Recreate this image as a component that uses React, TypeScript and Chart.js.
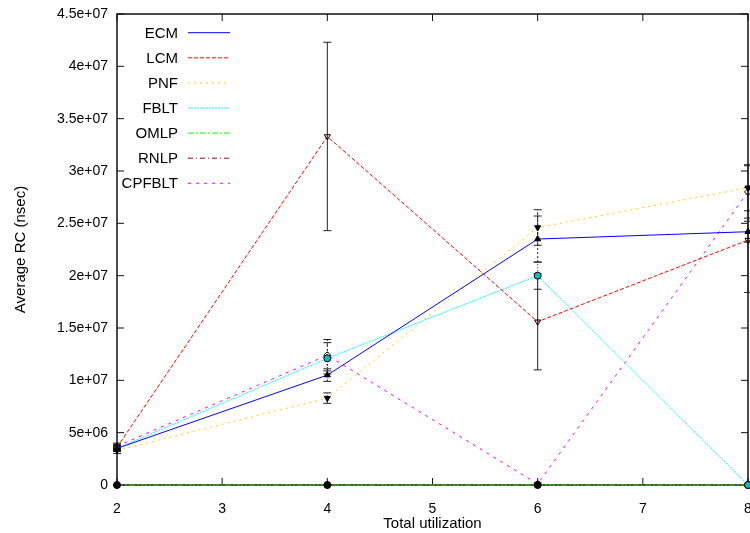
import { useEffect, useRef } from "react";
import { Chart, registerables } from "chart.js";

Chart.register(...registerables);

// Total utilization (x axis)
const utilization = [2, 4, 6, 8];

// Average response cost per protocol, in nanoseconds
const ecmValues = [3.5e6, 1.05e7, 2.35e7, 2.42e7];
const lcmValues = [3.6e6, 3.33e7, 1.56e7, 2.34e7];
const pnfValues = [3.3e6, 8.3e6, 2.46e7, 2.84e7];
const fbltValues = [3.5e6, 1.21e7, 2.0e7, 0];
const omlpValues = [0, 0, 0, 0];
const rnlpValues = [0, 0, 0, 0];
const cpfbltValues = [3.7e6, 1.24e7, 1.0e5, 2.8e7];

// Half-width of each error bar
const ecmErrors = [3e5, 6e5, 2.2e6, 1.0e6];
const lcmErrors = [3e5, 9.0e6, 4.6e6, 5.0e6];
const pnfErrors = [3e5, 5e5, 1.7e6, 2.2e6];
const fbltErrors = [3e5, 1.5e6, 1.3e6, 0];
const omlpErrors = [0, 0, 0, 0];
const rnlpErrors = [0, 0, 0, 0];
const cpfbltErrors = [3e5, 1.5e6, 1e5, 2.5e6];

// Axis ticks
const xTicks = [2, 3, 4, 5, 6, 7, 8];
const yMax = 4.5e7;
const yStep = 5e6;

const FONT = "'Liberation Sans', Arial, Helvetica, sans-serif";

type SeriesStyle = {
  label: string;
  values: number[];
  errors: number[];
  color: string;
  dash: number[];
  point: string;
  rotation: number;
  fill: string;
  errDash: number[];
};

const series: SeriesStyle[] = [
  { label: "ECM", values: ecmValues, errors: ecmErrors, color: "#0000ff", dash: [], point: "triangle", rotation: 0, fill: "#000", errDash: [2, 2] },
  { label: "LCM", values: lcmValues, errors: lcmErrors, color: "#ff0000", dash: [4, 2], point: "triangle", rotation: 180, fill: "rgba(255,255,255,0)", errDash: [] },
  { label: "PNF", values: pnfValues, errors: pnfErrors, color: "#ffcc00", dash: [2, 4], point: "triangle", rotation: 180, fill: "#000", errDash: [3, 2] },
  { label: "FBLT", values: fbltValues, errors: fbltErrors, color: "#00ffff", dash: [2, 1], point: "circle", rotation: 0, fill: "#00c0c0", errDash: [1, 2] },
  { label: "OMLP", values: omlpValues, errors: omlpErrors, color: "#00ff00", dash: [6, 2, 2, 2], point: "circle", rotation: 0, fill: "#000", errDash: [4, 2, 1, 2] },
  { label: "RNLP", values: rnlpValues, errors: rnlpErrors, color: "#a80000", dash: [5, 3, 1, 3], point: "rectRot", rotation: 0, fill: "#000", errDash: [4, 2, 1, 2, 1, 2] },
  { label: "CPFBLT", values: cpfbltValues, errors: cpfbltErrors, color: "#ff00ff", dash: [3, 5], point: "rectRot", rotation: 0, fill: "rgba(255,255,255,0)", errDash: [2, 3] },
];

function formatSci(v: number): string {
  const r = Math.round(v);
  if (r === 0) return "0";
  const e = Math.floor(Math.log10(r));
  const m = parseFloat((r / Math.pow(10, e)).toFixed(3));
  return `${m}e+${String(e).padStart(2, "0")}`;
}

// Box border with inward ticks on all four sides
const framePlugin = {
  id: "frame",
  beforeDatasetsDraw(chart: any) {
    const { ctx, chartArea: a, scales } = chart;
    const xs = scales.x;
    const ys = scales.y;
    const len = 7;
    ctx.save();
    ctx.strokeStyle = "#111";
    ctx.lineWidth = 1.5;
    ctx.strokeRect(a.left, a.top, a.right - a.left, a.bottom - a.top);
    ctx.lineWidth = 1;
    ctx.beginPath();
    for (const v of xTicks) {
      const px = xs.getPixelForValue(v);
      ctx.moveTo(px, a.bottom);
      ctx.lineTo(px, a.bottom - len);
      ctx.moveTo(px, a.top);
      ctx.lineTo(px, a.top + len);
    }
    for (let v = 0; v <= yMax + 1; v += yStep) {
      const py = ys.getPixelForValue(v);
      ctx.moveTo(a.left, py);
      ctx.lineTo(a.left + len, py);
      ctx.moveTo(a.right, py);
      ctx.lineTo(a.right - len, py);
    }
    ctx.stroke();
    ctx.restore();
  },
};

// Vertical error bars with caps
const errorBarPlugin = {
  id: "errorBars",
  beforeDatasetsDraw(chart: any) {
    const { ctx, scales } = chart;
    const xs = scales.x;
    const ys = scales.y;
    const cap = 4;
    ctx.save();
    ctx.strokeStyle = "#222";
    ctx.lineWidth = 1;
    series.forEach((s) => {
      s.values.forEach((v, i) => {
        const e = s.errors[i];
        if (!e) return;
        const px = xs.getPixelForValue(utilization[i]);
        const lo = ys.getPixelForValue(v - e);
        const hi = ys.getPixelForValue(v + e);
        ctx.setLineDash(s.errDash);
        ctx.beginPath();
        ctx.moveTo(px, lo);
        ctx.lineTo(px, hi);
        ctx.stroke();
        ctx.setLineDash([]);
        ctx.beginPath();
        ctx.moveTo(px - cap, lo);
        ctx.lineTo(px + cap, lo);
        ctx.moveTo(px - cap, hi);
        ctx.lineTo(px + cap, hi);
        ctx.stroke();
      });
    });
    ctx.restore();
  },
};

// Key in the upper-left corner: right-aligned names followed by line samples
const keyPlugin = {
  id: "key",
  afterDraw(chart: any) {
    const { ctx } = chart;
    const textRight = 178;
    const sampleLeft = 188;
    const sampleRight = 230;
    const firstRow = 32.7;
    const rowGap = 25.1;
    ctx.save();
    ctx.font = `15px ${FONT}`;
    ctx.textAlign = "right";
    ctx.textBaseline = "middle";
    series.forEach((s, i) => {
      const y = firstRow + i * rowGap;
      ctx.fillStyle = "#000";
      ctx.fillText(s.label, textRight, y + 1);
      ctx.strokeStyle = s.color;
      ctx.lineWidth = 1;
      ctx.setLineDash(s.dash);
      ctx.beginPath();
      ctx.moveTo(sampleLeft, y);
      ctx.lineTo(sampleRight, y);
      ctx.stroke();
    });
    ctx.restore();
  },
};

export default function App() {
  const canvasRef = useRef<HTMLCanvasElement | null>(null);

  useEffect(() => {
    const canvas = canvasRef.current;
    if (!canvas) return;

    const datasets = series.map((s) => ({
      label: s.label,
      data: s.values.map((v, i) => ({ x: utilization[i], y: v })),
      borderColor: s.color,
      backgroundColor: s.fill,
      borderWidth: 1,
      borderDash: s.dash,
      pointStyle: s.point,
      pointRotation: s.rotation,
      pointRadius: 3.5,
      pointBorderColor: "#000",
      pointBackgroundColor: s.fill,
      pointBorderWidth: 1,
      tension: 0,
      fill: false,
      clip: false as any,
    }));

    const chart = new Chart(canvas, {
      type: "line",
      data: { datasets },
      options: {
        responsive: false,
        animation: false,
        devicePixelRatio: 1,
        layout: { padding: { left: 0, top: 14, right: 2, bottom: 0 }, autoPadding: false },
        plugins: {
          legend: { display: false },
          tooltip: { enabled: false },
        },
        scales: {
          x: {
            type: "linear",
            min: 2,
            max: 8,
            grid: { display: false, drawTicks: false },
            border: { display: false },
            afterBuildTicks: (scale: any) => {
              scale.ticks = xTicks.map((v) => ({ value: v }));
            },
            afterFit: (scale: any) => {
              scale.height = 48;
              scale.paddingLeft = 0;
              scale.paddingRight = 0;
            },
            ticks: {
              color: "#000",
              font: { family: FONT, size: 14 },
              padding: 16,
              maxRotation: 0,
              autoSkip: false,
            },
            title: {
              display: true,
              text: "Total utilization",
              color: "#000",
              font: { family: FONT, size: 15 },
              padding: { top: 0, bottom: 0 },
            },
          },
          y: {
            type: "linear",
            min: 0,
            max: yMax,
            grid: { display: false, drawTicks: false },
            border: { display: false },
            afterFit: (scale: any) => {
              scale.width = 117;
              scale.paddingTop = 0;
              scale.paddingBottom = 0;
            },
            ticks: {
              stepSize: yStep,
              color: "#000",
              font: { family: FONT, size: 14 },
              padding: 9,
              callback: (v: any) => formatSci(Number(v)),
            },
            title: {
              display: true,
              text: "Average RC (nsec)",
              color: "#000",
              font: { family: FONT, size: 15 },
              padding: { top: 12, bottom: 0 },
            },
          },
        },
      },
      plugins: [framePlugin, errorBarPlugin, keyPlugin],
    });

    return () => chart.destroy();
  }, []);

  return (
    <div style={{ position: "absolute", left: 0, top: 0, width: 750, height: 533, background: "#fff" }}>
      <canvas ref={canvasRef} width={750} height={533} style={{ display: "block" }} />
    </div>
  );
}
